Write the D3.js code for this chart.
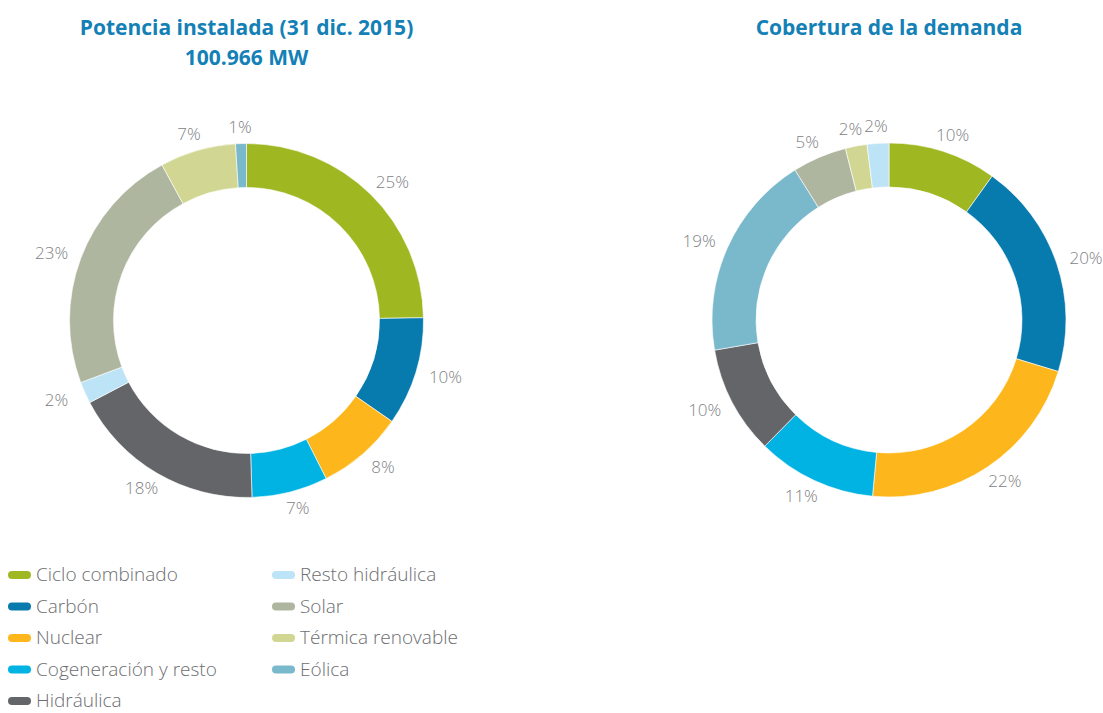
<!DOCTYPE html>
<html>
<head>
<meta charset="utf-8">
<script src="https://cdn.jsdelivr.net/npm/d3@7"></script>
<style>
  body { margin: 0; background: #fff; }
  svg { display: block; }
</style>
</head>
<body>
<svg width="1103" height="713"></svg>
<script>
// categories in legend order
var categories = ["Ciclo combinado", "Carbón", "Nuclear", "Cogeneración y resto", "Hidráulica",
                  "Resto hidráulica", "Solar", "Térmica renovable", "Eólica"]
var colors = ["#9fb822", "#077aae", "#fdb71d", "#00b3e2", "#646569",
              "#bde3f6", "#afb69f", "#d1d792", "#7ab8cb"]

// % per category (same order as categories)
var potencia = [25, 10, 8, 7, 18, 2, 23, 7, 1]
var cobertura = [10, 20, 22, 11, 10, 2, 5, 2, 19]

// clockwise drawing order of each ring (index into categories)
var potenciaOrder = [0, 1, 2, 3, 4, 5, 6, 7, 8]
var coberturaOrder = [0, 1, 2, 3, 4, 8, 6, 7, 5]

var titles = [["Potencia instalada (31 dic. 2015)", "100.966 MW"], ["Cobertura de la demanda"]]

var svg = d3.select("svg")
var font = "'Open Sans', 'Noto Sans', sans-serif"

var outerR = 177, innerR = 133
var labelRx = 208, labelRy = 194   // labels sit on a slightly flattened ring

var arc = d3.arc().innerRadius(innerR).outerRadius(outerR)
var pie = d3.pie().sort(null).value(d => d.v)

function labelPos(d) {
  var a = (d.startAngle + d.endAngle) / 2
  return [Math.sin(a) * labelRx, -Math.cos(a) * labelRy]
}

function drawRing(cx, cy, values, order, title) {
  var data = order.map(i => ({v: values[i], i: i}))
  var g = svg.append("g").attr("transform", "translate(" + cx + "," + cy + ")")

  g.selectAll("path.slice")
    .data(pie(data))
    .enter()
    .append("path")
    .attr("class", "slice")
    .attr("d", arc)
    .style("fill", d => colors[d.data.i])
    .style("stroke", "#fff")
    .style("stroke-width", 0.6)

  g.selectAll("text.lbl")
    .data(pie(data))
    .enter()
    .append("text")
    .attr("class", "lbl")
    .attr("x", d => labelPos(d)[0])
    .attr("y", d => labelPos(d)[1])
    .attr("dy", "0.35em")
    .attr("text-anchor", "middle")
    .style("font-family", font)
    .style("font-weight", 300)
    .style("font-size", "17px")
    .style("fill", "#808285")
    .text(d => d.data.v + "%")

  title.forEach((t, k) => {
    svg.append("text")
      .attr("x", cx)
      .attr("y", 35 + k * 30)
      .attr("text-anchor", "middle")
      .style("font-family", font)
      .style("font-weight", 700)
      .style("font-size", "21px")
      .style("fill", "#1380b6")
      .text(t)
  })
}

drawRing(246.5, 320.5, potencia, potenciaOrder, titles[0])
drawRing(889, 320, cobertura, coberturaOrder, titles[1])

// legend: two columns
var legend = svg.append("g")
var items = legend.selectAll("g.item")
  .data(categories)
  .enter()
  .append("g")
  .attr("class", "item")
  .attr("transform", (d, i) => "translate(" + (i < 5 ? 8 : 272) + "," + (575 + (i % 5) * 31.5) + ")")

items.append("rect")
  .attr("x", 0).attr("y", -4)
  .attr("width", 23).attr("height", 8)
  .attr("rx", 4)
  .style("fill", (d, i) => colors[i])

items.append("text")
  .attr("x", 28)
  .attr("dy", "0.32em")
  .style("font-family", font)
  .style("font-weight", 300)
  .style("font-size", "19px")
  .style("fill", "#6d6e71")
  .text(d => d)
</script>
</body>
</html>
